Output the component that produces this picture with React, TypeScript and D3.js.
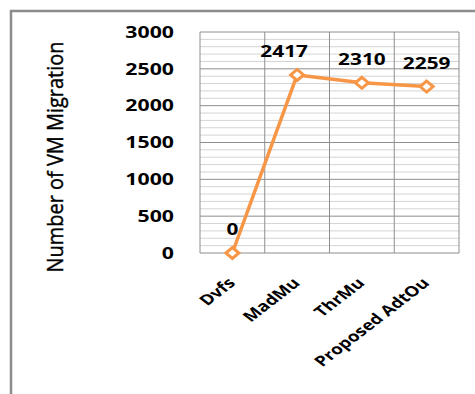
import React from "react";
import * as d3 from "d3";

const categories = ["Dvfs", "MadMu", "ThrMu", "Proposed AdtOu"];
const values = [0, 2417, 2310, 2259];
const yTicks = [0, 500, 1000, 1500, 2000, 2500, 3000];
const yTitle = "Number of VM Migration";

const W = 475;
const H = 394;
const plot = { left: 200, right: 459, top: 32, bottom: 253 };
const ORANGE = "#F79646";
const SX = 1.33;

export default function App() {
  const x = d3
    .scaleBand<string>()
    .domain(categories)
    .range([plot.left, plot.right])
    .padding(0);
  const y = d3.scaleLinear().domain([0, 3000]).range([plot.bottom, plot.top]);
  const cx = (c: string) => (x(c) as number) + x.bandwidth() / 2;

  const minor = d3.range(0, 3001, 100).filter((v) => v % 500 !== 0);
  const line = d3
    .line<number>()
    .x((_, i) => cx(categories[i]))
    .y((d) => y(d));

  const boundaries = categories.map((c) => x(c) as number).concat([plot.right]);
  const font = "'Open Sans', 'DejaVu Sans', sans-serif";

  return (
    <svg
      width={W}
      height={H}
      style={{ position: "absolute", left: 0, top: 0, background: "#fff" }}
    >
      <rect x={0} y={0} width={W} height={H} fill="#fff" />
      <path d={`M11,${H} V11 H${W}`} fill="none" stroke="#8c8c8c" strokeWidth={2.5} />

      {/* minor grid */}
      {minor.map((v) => (
        <line
          key={"mn" + v}
          x1={plot.left}
          x2={plot.right}
          y1={y(v)}
          y2={y(v)}
          stroke="#d4d4d4"
          strokeWidth={1}
        />
      ))}
      {/* major grid */}
      {yTicks.map((v) => (
        <line
          key={"mj" + v}
          x1={plot.left}
          x2={plot.right}
          y1={y(v)}
          y2={y(v)}
          stroke="#8e8e8e"
          strokeWidth={1}
        />
      ))}
      {boundaries.map((bx, i) => (
        <line
          key={"vb" + i}
          x1={bx}
          x2={bx}
          y1={plot.top}
          y2={plot.bottom}
          stroke="#8e8e8e"
          strokeWidth={1}
        />
      ))}

      {/* y tick labels */}
      {yTicks.map((v) => (
        <text
          key={"yt" + v}
          transform={`translate(174,${y(v) + 5.8}) scale(${SX},1)`}
          textAnchor="end"
          fontFamily={font}
          fontWeight="bold"
          fontSize={16}
          fill="#000"
        >
          {v}
        </text>
      ))}

      {/* y title */}
      <text
        transform={`translate(63,157) scale(1.22,1) rotate(-90)`}
        textAnchor="middle"
        fontFamily={font}
        fontSize={18}
        fontWeight={500}
        fill="#000"
        stroke="#000"
        strokeWidth={0.35}
        textLength={231}
        lengthAdjust="spacingAndGlyphs"
      >
        {yTitle}
      </text>

      {/* category labels */}
      {categories.map((c) => (
        <text
          key={"cl" + c}
          transform={`translate(${cx(c) + 4},284) scale(1.3,1) rotate(-45)`}
          textAnchor="end"
          fontFamily={font}
          fontWeight="bold"
          fontSize={14.5}
          fill="#000"
        >
          {c}
        </text>
      ))}

      {/* series line */}
      <path d={line(values) || ""} fill="none" stroke={ORANGE} strokeWidth={3.5} strokeLinejoin="round" />
      {values.map((v, i) => (
        <path
          key={"mk" + i}
          transform={`translate(${cx(categories[i])},${y(v)})`}
          d="M0,-5.5 L6.5,0 L0,5.5 L-6.5,0 Z"
          fill="#fff"
          stroke={ORANGE}
          strokeWidth={3}
        />
      ))}

      {/* data labels */}
      {values.map((v, i) => (
        <text
          key={"dl" + i}
          transform={`translate(${cx(categories[i]) - (v > 2400 ? 13 : 0)},${y(v) - 18}) scale(1.3,1)`}
          textAnchor="middle"
          fontFamily={font}
          fontWeight="bold"
          fontSize={16}
          fill="#000"
        >
          {v}
        </text>
      ))}
    </svg>
  );
}
